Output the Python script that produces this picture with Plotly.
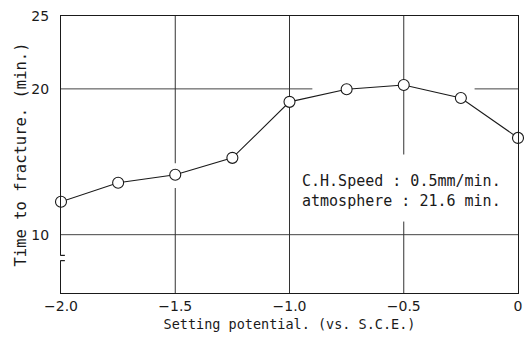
import plotly.graph_objects as go

# Data
potential = [-2.0, -1.75, -1.5, -1.25, -1.0, -0.75, -0.5, -0.25, 0.0]
time_to_fracture = [12.26, 13.56, 14.11, 15.27, 19.11, 19.98, 20.27, 19.38, 16.64]

x_tick_vals = [-2.0, -1.5, -1.0, -0.5, 0.0]
x_tick_text = ["\u22122.0", "\u22121.5", "\u22121.0", "\u22120.5", "0"]
y_tick_vals = [10, 20, 25]
y_tick_text = ["10", "20", "25"]

# grid segments (value, start, end)
h_grid = [(20, -2.0, -0.9), (20, -0.19, 0.0), (10, -2.0, 0.0)]
v_grid = [(-1.5, 6.0, 13.2), (-1.5, 14.9, 25.0), (-1.0, 6.0, 25.0),
          (-0.5, 6.0, 10.9), (-0.5, 15.5, 25.0)]

FONT = "DejaVu Sans"
TFONT = "DejaVu Sans Mono"
INK = "#1a1a1a"

fig = go.Figure()
fig.add_trace(go.Scatter(
    x=potential, y=time_to_fracture, mode="lines+markers",
    line=dict(color=INK, width=1.1),
    marker=dict(symbol="circle", size=11, color="white",
                line=dict(color=INK, width=1.1)),
    showlegend=False, cliponaxis=False,
))

shapes = []
for v, a, b in h_grid:
    shapes.append(dict(type="line", xref="x", yref="y", x0=a, x1=b, y0=v, y1=v,
                       line=dict(color="#444", width=1), layer="below"))
for v, a, b in v_grid:
    shapes.append(dict(type="line", xref="x", yref="y", x0=v, x1=v, y0=a, y1=b,
                       line=dict(color="#333", width=1), layer="below"))
# axis break mark
shapes.append(dict(type="line", xref="paper", yref="y", x0=0, x1=0, y0=8.25, y1=8.55,
                   line=dict(color="white", width=3), layer="above"))
for yv in (8.22, 8.58):
    shapes.append(dict(type="line", xref="x", yref="y", x0=-2.017, x1=-1.983, y0=yv, y1=yv,
                       line=dict(color=INK, width=1.2), layer="above"))

fig.update_layout(
    width=526, height=339,
    margin=dict(l=61, r=8, t=16, b=46, autoexpand=False),
    paper_bgcolor="white", plot_bgcolor="white",
    font=dict(family=FONT, color=INK, size=14),
    shapes=shapes,
    xaxis=dict(range=[-2.0, 0.0], tickvals=x_tick_vals, ticktext=x_tick_text,
               automargin=False,
               showgrid=False, zeroline=False, showline=True, mirror=True,
               linecolor=INK, linewidth=1.3, ticks="", ticklen=0,
               ticklabelstandoff=0,
               tickfont=dict(size=14, family=FONT),
               title=dict(text="Setting potential. (vs. S.C.E.)",
                          font=dict(size=13.5, family=TFONT), standoff=6)),
    yaxis=dict(range=[6.0, 25.0], tickvals=y_tick_vals, ticktext=y_tick_text,
               automargin=False,
               showgrid=False, zeroline=False, showline=True, mirror=True,
               linecolor=INK, linewidth=1.3, ticks="", ticklen=0,
               ticklabelstandoff=8,
               tickfont=dict(size=14, family=FONT),
               title=dict(text="Time to fracture. (min.)",
                          font=dict(size=15.5, family=TFONT), standoff=0)),
    annotations=[dict(
        xref="x", yref="y", x=-0.955, y=14.45, xanchor="left", yanchor="top",
        text="C.H.Speed : 0.5mm/min.<br>atmosphere : 21.6 min.",
        showarrow=False, align="left", font=dict(size=15, family=TFONT, color=INK),
    )],
)

fig.write_html(
    "out.html",
    config={"displayModeBar": False},
    post_script="document.body.style.margin='0';document.body.style.overflow='hidden';",
)
